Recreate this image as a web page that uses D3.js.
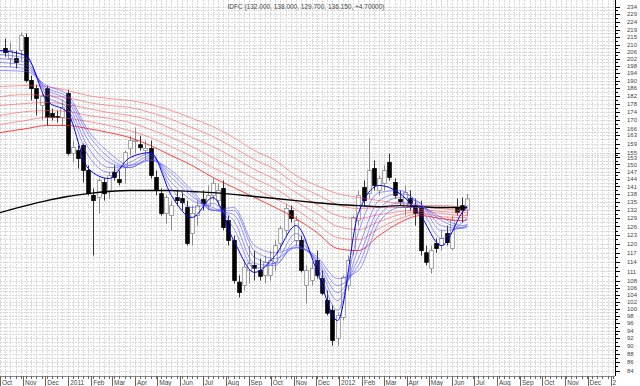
<!DOCTYPE html>
<html>
<head>
<script src="https://d3js.org/d3.v7.min.js"></script>
<style>
  body { margin: 0; background: #fff; font-family: "Liberation Sans", Arial, sans-serif; }
</style>
</head>
<body>
<div id="chart"></div>
<script>
const title = "IDFC (132.000, 138.000, 129.700, 136.150, +4.70000)";

// weekly candles, first week ending 2010-10-08
const firstWeek = "2010-10-08";
const opens = [207.9,202.1,202.1,206.7,214.4,190.0,185.7,177.1,185.7,173.2,
  171.7,171.2,183.2,154.7,156.0,158.2,147.5,137.5,136.7,142.6,
  139.4,146.7,143.8,148.7,156.9,160.0,158.6,156.0,156.9,144.6,
  138.2,130.7,129.9,136.7,136.3,132.9,123.5,129.9,135.9,133.6,
  137.5,135.5,140.2,128.1,121.1,107.7,106.7,111.3,112.9,111.3,
  109.8,109.8,113.9,120.1,124.6,131.8,121.1,121.1,106.7,108.2,
  114.5,108.8,102.3,99.5,91.9,97.5,106.7,117.7,128.1,140.6,
  138.2,148.3,139.4,142.2,150.9,142.6,135.9,132.9,136.3,133.6,
  132.9,117.0,112.0,120.1,119.4,123.5,118.4,132.9,133.6,132.0];
const highs = [213.8,211.4,206.7,217.5,216.9,192.7,187.8,183.7,187.3,175.6,
  174.6,179.6,185.2,160.5,158.2,159.1,149.6,140.2,144.2,144.2,
  146.7,149.6,147.5,156.0,162.7,166.4,162.7,160.5,160.5,147.5,
  140.2,137.5,135.5,139.4,138.6,135.5,133.6,135.5,139.4,141.4,
  144.2,142.2,143.4,129.9,122.8,109.8,114.5,119.4,117.7,115.1,
  116.1,117.7,121.1,126.3,134.4,133.6,129.9,122.8,112.9,113.9,
  117.7,111.3,105.2,100.9,98.9,109.8,116.1,129.9,139.4,143.4,
  161.4,151.7,145.4,149.6,154.7,144.2,139.4,141.4,139.4,136.3,
  135.5,119.4,119.4,121.8,124.6,126.3,129.9,136.3,136.7,138.0];
const lows = [203.2,197.6,196.5,201.0,188.9,179.6,172.2,169.8,167.4,169.8,
  168.8,167.4,153.8,150.9,148.3,142.6,137.5,116.1,130.7,135.5,
  136.3,143.4,141.4,142.2,153.8,154.7,156.0,151.7,144.2,137.5,
  129.9,127.0,124.6,133.6,131.8,119.4,119.4,126.3,131.8,131.8,
  135.5,133.6,124.6,119.4,107.3,103.2,105.2,107.3,108.2,108.2,
  107.3,108.2,111.3,117.7,122.8,127.4,119.4,110.7,101.5,106.7,
  108.8,103.8,98.1,90.1,90.1,96.7,105.2,116.1,126.3,133.6,
  136.3,139.4,137.5,139.4,143.4,136.3,133.6,129.9,131.8,126.3,
  116.1,112.9,110.4,117.0,117.7,119.4,117.7,129.9,127.4,129.7];
const closes = [205.5,206.7,199.9,215.6,190.0,185.7,180.6,181.6,171.2,171.2,
  171.2,176.1,154.7,157.3,152.5,147.5,138.2,135.5,143.4,138.2,
  145.4,144.6,142.6,155.1,160.5,160.4,157.3,156.9,145.4,139.4,
  130.7,136.7,133.6,135.5,134.7,120.1,130.7,133.6,134.4,137.5,
  142.2,139.4,125.6,121.1,108.2,104.6,112.3,113.5,112.0,109.5,
  113.9,114.5,119.4,125.3,132.5,128.8,128.1,111.3,111.3,112.0,
  109.8,104.4,98.7,91.4,98.1,109.2,114.5,129.2,137.5,135.5,
  147.5,141.4,144.2,147.5,144.6,137.5,135.1,138.6,134.4,130.7,
  117.7,113.9,117.7,118.4,121.8,120.4,128.1,131.0,131.8,136.15];

// moving average lines, read at these dates
const lineDates = ["2010-10-01","2010-11-05","2010-12-03","2010-12-31","2011-01-28","2011-02-25",
  "2011-03-25","2011-04-22","2011-05-20","2011-06-17","2011-07-15","2011-08-12","2011-09-09",
  "2011-10-07","2011-11-04","2011-12-02","2011-12-30","2012-01-27","2012-02-24","2012-03-23",
  "2012-04-20","2012-05-18","2012-06-15","2012-06-22"];
const blue1 = [206.7,203.8,179.6,173.6,148.3,144.2,152.9,155.1,137.5,129.2,136.7,121.1,110.7,116.1,126.3,111.3,96.7,130.7,141.4,138.2,129.9,119.4,131.0,133.6];
const blue2 = [204.4,202.1,182.1,175.6,153.8,146.7,150.9,154.7,140.2,132.9,134.4,125.3,112.0,113.9,123.5,112.9,99.5,123.9,138.6,139.4,132.9,121.8,127.4,128.8];
const blue3 = [202.1,199.9,183.7,177.6,157.3,148.7,149.6,153.8,142.6,135.5,132.9,128.1,113.5,112.9,121.1,113.9,102.3,118.4,135.5,138.2,134.4,124.6,125.6,126.7];
const blue4 = [199.9,198.2,185.2,179.6,160.5,150.9,148.7,152.9,144.6,137.1,132.1,130.3,115.5,113.5,119.4,114.5,104.6,115.1,132.5,136.7,134.4,126.3,125.3,126.0];
const blue5 = [197.6,196.5,186.2,181.1,163.2,152.9,148.7,152.1,146.3,138.2,131.8,131.8,117.7,115.1,118.7,115.1,106.7,112.9,129.9,134.7,133.6,128.1,125.6,126.0];
const blue6 = [195.4,194.9,187.3,182.6,165.0,155.1,149.6,151.7,147.5,139.4,131.8,132.9,119.4,117.0,118.7,115.8,108.8,111.3,127.4,132.9,132.9,129.2,126.3,126.7];
const red1 = [164.1,165.9,167.4,167.4,165.9,164.1,161.8,158.2,153.8,149.6,144.6,140.6,136.7,132.9,128.8,123.9,118.4,117.7,122.8,127.4,129.9,128.8,128.1,128.4];
const red2 = [167.9,169.8,171.2,170.8,169.3,167.4,165.0,161.8,157.7,153.4,148.7,144.6,140.2,136.3,132.1,127.0,122.1,121.4,125.3,128.8,130.7,129.5,129.2,129.2];
const red3 = [172.2,174.1,174.6,174.1,172.2,170.8,168.8,165.5,161.8,157.7,152.9,148.7,144.2,140.2,135.1,130.7,126.0,124.9,127.7,130.3,131.4,130.7,129.9,129.9];
const red4 = [177.1,178.1,178.6,177.6,175.6,173.6,172.2,169.8,165.9,161.8,157.7,152.9,147.9,143.8,138.6,134.0,129.9,128.8,130.3,131.4,132.1,131.4,131.0,131.0];
const red5 = [181.6,182.6,182.1,181.1,178.6,177.1,176.1,173.6,170.3,166.4,162.3,157.3,152.1,147.9,141.8,137.9,134.0,132.5,132.9,132.9,132.9,132.5,131.8,131.8];
const red6 = [186.8,187.3,186.8,184.7,182.1,180.6,179.6,177.6,174.6,170.8,166.9,161.8,156.0,151.7,145.4,141.4,138.2,136.7,135.5,134.4,133.6,133.6,132.9,132.5];
const ma200 = [131.0,133.6,135.5,137.1,138.2,139.0,139.4,139.4,139.4,139.0,138.6,137.9,137.1,136.3,135.5,134.7,134.0,133.6,133.2,133.6,133.2,132.9,132.9,132.9];

const priceTicks = [234,229,224,219,215,210,206,202,198,194,190,186,182,178,174,170,166,163,159,155,153,150,147,144,141,138,135,132,129,126,123,120,117,114,111,108,106,104,102,100,98,96,94,92,90,88,86,84];
const monthLabels = ["Oct","Nov","Dec","2011","Feb","Mar","Apr","May","Jun","Jul","Aug","Sep","Oct","Nov","Dec",
  "2012","Feb","Mar","Apr","May","Jun","Jul","Aug","Sep","Oct","Nov","Dec","2"];

const W = 640, H = 386;
const plotR = 615, plotB = 376;
const parse = d3.utcParse("%Y-%m-%d");

const svg = d3.select("#chart").append("svg")
  .attr("width", W).attr("height", H)
  .style("display", "block");

const x = d3.scaleUtc()
  .domain([parse("2010-10-01"), parse("2013-01-07")])
  .range([0, plotR]);

const y = d3.scaleLog()
  .domain([84, 234])
  .range([370.5, 6.5]);

// candle records
const start = parse(firstWeek);
const candles = opens.map((o, i) => ({
  date: d3.utcDay.offset(start, 7 * i),
  o: o, h: highs[i], l: lows[i], c: closes[i]
}));

// grid: weekly verticals, horizontals at labels and midpoints
const weeks = d3.utcFriday.range(parse("2010-10-01"), parse("2013-01-07"));
const grid = svg.append("g").attr("stroke", "#d9d9d9").attr("stroke-width", 1)
  .attr("stroke-dasharray", "2,1");
grid.selectAll("line.v").data(weeks).join("line")
  .attr("x1", d => Math.round(x(d)) + 0.5).attr("x2", d => Math.round(x(d)) + 0.5)
  .attr("y1", 0).attr("y2", plotB);
const hVals = [];
priceTicks.forEach((v, i) => {
  hVals.push(v);
  if (i < priceTicks.length - 1) hVals.push(Math.sqrt(v * priceTicks[i + 1]));
});
grid.selectAll("line.h").data(hVals).join("line")
  .attr("x1", 0).attr("x2", plotR)
  .attr("y1", d => Math.round(y(d)) + 0.5).attr("y2", d => Math.round(y(d)) + 0.5);

// title
svg.append("text")
  .attr("x", 306).attr("y", 8.5)
  .attr("text-anchor", "middle")
  .style("font-size", "6.5px").style("fill", "#444")
  .text(title);

// candles
const cw = 3.6;
const cg = svg.append("g");
cg.selectAll("line").data(candles).join("line")
  .attr("x1", d => Math.round(x(d.date)) + 0.5).attr("x2", d => Math.round(x(d.date)) + 0.5)
  .attr("y1", d => y(d.h)).attr("y2", d => y(d.l))
  .attr("stroke", d => d.c >= d.o ? "#888" : "#333").attr("stroke-width", 1);
cg.selectAll("rect").data(candles).join("rect")
  .attr("x", d => Math.round(x(d.date)) + 0.5 - cw / 2)
  .attr("y", d => y(Math.max(d.o, d.c)))
  .attr("width", cw)
  .attr("height", d => Math.max(1, Math.abs(y(d.o) - y(d.c))))
  .attr("fill", d => d.c >= d.o ? "#fff" : "#000")
  .attr("stroke", d => d.c >= d.o ? "#888" : "#000")
  .attr("stroke-width", 0.8);

// moving averages
const ld = lineDates.map(parse);
const line = d3.line()
  .x((d, i) => x(ld[i]))
  .y(d => y(d))
  .curve(d3.curveMonotoneX);
const series = [
  { v: red6, c: "#ff5050", w: 0.6 }, { v: red5, c: "#ff5050", w: 0.6 }, { v: red4, c: "#ff5050", w: 0.6 },
  { v: red3, c: "#ff5050", w: 0.6 }, { v: red2, c: "#ff5050", w: 0.6 }, { v: red1, c: "#ff1010", w: 0.8 },
  { v: ma200, c: "#000", w: 1.4 },
  { v: blue6, c: "#5050ff", w: 0.6 }, { v: blue5, c: "#5050ff", w: 0.6 }, { v: blue4, c: "#5050ff", w: 0.6 },
  { v: blue3, c: "#5050ff", w: 0.6 }, { v: blue2, c: "#5050ff", w: 0.6 }, { v: blue1, c: "#0000ee", w: 1 }
];
svg.append("g").selectAll("path").data(series).join("path")
  .attr("d", d => line(d.v))
  .attr("fill", "none")
  .attr("stroke", d => d.c)
  .attr("stroke-width", d => d.w);

// right price axis
svg.append("rect").attr("x", plotR + 1).attr("y", 0).attr("width", W - plotR).attr("height", H).attr("fill", "#fff");
const ax = svg.append("g");
ax.append("line").attr("x1", plotR + 0.5).attr("x2", plotR + 0.5).attr("y1", 0).attr("y2", plotB)
  .attr("stroke", "#000");
ax.selectAll("line.t").data(hVals).join("line")
  .attr("x1", plotR).attr("x2", (d, i) => plotR + (i % 2 === 0 ? 5 : 3))
  .attr("y1", d => Math.round(y(d)) + 0.5).attr("y2", d => Math.round(y(d)) + 0.5)
  .attr("stroke", "#000");
ax.selectAll("text").data(priceTicks).join("text")
  .attr("x", 627).attr("y", d => y(d) + 2.2)
  .style("font-size", "6px").style("fill", "#444")
  .text(d => d);

// bottom time axis
const bx = svg.append("g");
bx.append("line").attr("x1", 0).attr("x2", plotR).attr("y1", plotB + 0.5).attr("y2", plotB + 0.5)
  .attr("stroke", "#888");
bx.selectAll("line.w").data(weeks).join("line")
  .attr("x1", d => Math.round(x(d)) + 0.5).attr("x2", d => Math.round(x(d)) + 0.5)
  .attr("y1", plotB).attr("y2", plotB + 3).attr("stroke", "#666");
const months = d3.utcMonth.range(parse("2010-10-01"), parse("2013-01-07"));
bx.selectAll("line.m").data(months).join("line")
  .attr("x1", d => Math.round(x(d)) + 0.5).attr("x2", d => Math.round(x(d)) + 0.5)
  .attr("y1", plotB).attr("y2", H).attr("stroke", "#666");
bx.selectAll("text").data(months).join("text")
  .attr("x", d => x(d) + 2).attr("y", 384.5)
  .style("font-size", "6.5px").style("fill", "#444")
  .text((d, i) => monthLabels[i]);
</script>
</body>
</html>
